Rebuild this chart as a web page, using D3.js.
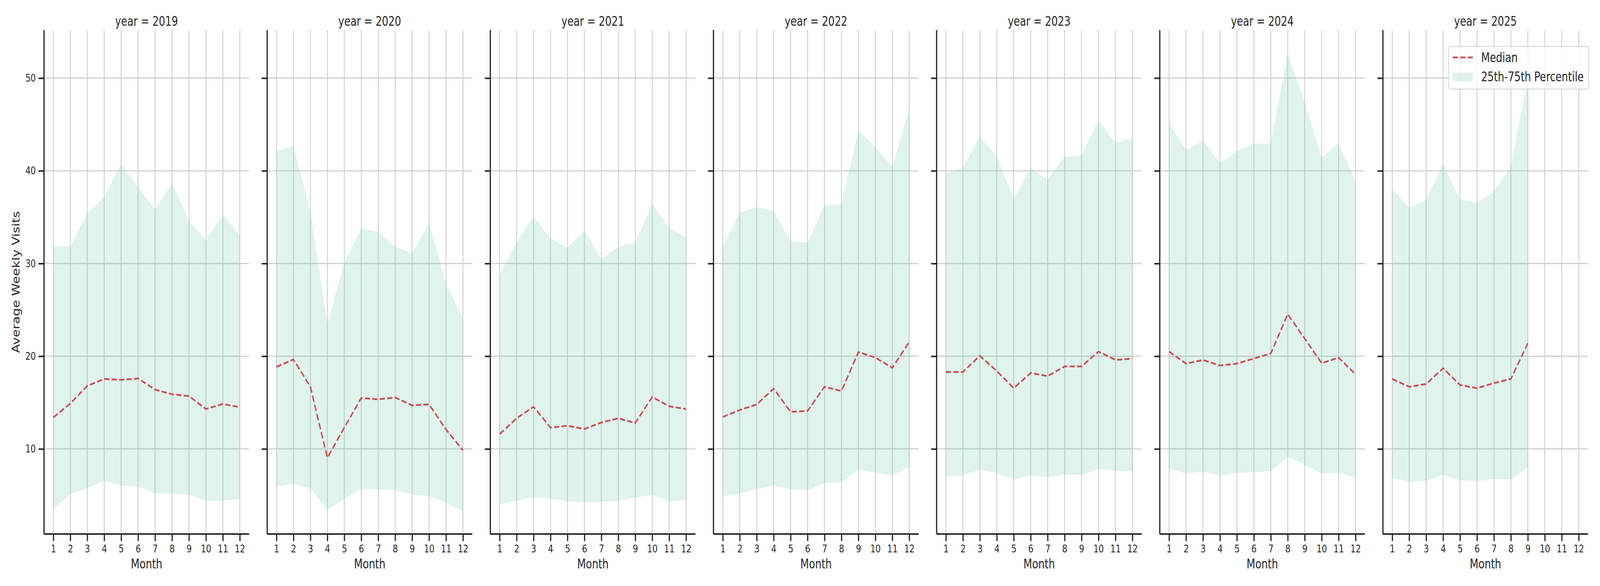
<!DOCTYPE html>
<html>
<head>
<meta charset="utf-8">
<script src="https://cdn.jsdelivr.net/npm/d3@7"></script>
<style>
  html, body { margin: 0; padding: 0; background: #fff; overflow: hidden; }
  #chart svg { display: block; }
  text { font-family: "DejaVu Sans", sans-serif; fill: #262626; }
</style>
</head>
<body>
<div id="chart"></div>
<script>
// data, one row per year
var years = [2019, 2020, 2021, 2022, 2023, 2024, 2025];
var months = [1, 2, 3, 4, 5, 6, 7, 8, 9, 10, 11, 12];
var yTicks = [10, 20, 30, 40, 50];

var median = [
  [13.4, 14.9, 16.8, 17.55, 17.45, 17.6, 16.4, 15.9, 15.7, 14.3, 14.85, 14.5],
  [18.85, 19.65, 16.7, 9.05, 12.3, 15.5, 15.35, 15.55, 14.7, 14.8, 12.1, 9.85],
  [11.6, 13.3, 14.55, 12.3, 12.5, 12.15, 12.85, 13.3, 12.8, 15.6, 14.6, 14.3],
  [13.45, 14.2, 14.8, 16.5, 14.0, 14.1, 16.7, 16.25, 20.45, 19.85, 18.75, 21.55],
  [18.3, 18.3, 20.05, 18.4, 16.55, 18.2, 17.85, 18.9, 18.9, 20.5, 19.6, 19.75],
  [20.5, 19.2, 19.6, 19.0, 19.2, 19.75, 20.3, 24.55, 21.9, 19.25, 19.85, 18.05],
  [17.55, 16.7, 17.0, 18.7, 16.9, 16.55, 17.1, 17.55, 21.4]
];
var p25 = [
  [3.5, 5.1, 5.75, 6.55, 6.05, 5.95, 5.2, 5.2, 5.05, 4.4, 4.4, 4.6],
  [6.0, 6.2, 5.75, 3.4, 4.6, 5.7, 5.65, 5.55, 5.1, 4.9, 4.2, 3.3],
  [4.0, 4.45, 4.75, 4.65, 4.35, 4.2, 4.3, 4.4, 4.75, 5.05, 4.35, 4.5],
  [4.9, 5.2, 5.65, 6.1, 5.65, 5.55, 6.35, 6.4, 7.75, 7.45, 7.15, 8.05],
  [7.0, 7.15, 7.75, 7.4, 6.7, 7.15, 6.95, 7.25, 7.2, 7.85, 7.65, 7.6],
  [7.85, 7.35, 7.55, 7.1, 7.4, 7.5, 7.6, 9.15, 8.3, 7.35, 7.45, 6.9],
  [6.9, 6.45, 6.55, 7.2, 6.6, 6.55, 6.75, 6.7, 8.0]
];
var p75 = [
  [31.9, 31.85, 35.4, 37.15, 40.8, 38.2, 35.85, 38.65, 34.6, 32.5, 35.3, 33.0],
  [42.1, 42.75, 35.5, 23.5, 30.1, 33.8, 33.4, 31.8, 31.1, 34.4, 27.8, 24.1],
  [28.8, 32.3, 35.1, 32.7, 31.7, 33.55, 30.5, 31.8, 32.25, 36.4, 33.85, 32.75],
  [31.8, 35.5, 36.1, 35.65, 32.45, 32.25, 36.3, 36.35, 44.35, 42.6, 40.4, 46.7],
  [39.75, 40.3, 43.75, 41.55, 37.0, 40.3, 39.05, 41.5, 41.7, 45.45, 43.0, 43.55],
  [45.2, 42.2, 43.3, 40.85, 42.1, 42.9, 43.0, 52.6, 47.4, 41.4, 43.0, 38.85],
  [38.0, 36.05, 36.85, 40.75, 36.9, 36.55, 37.75, 40.45, 50.0]
];

var W = 5250, H = 1500;
var top0 = 77, bottom0 = 1367;
var left0 = 144.5, step = 732.2, pw = 673;

var red = "#c44e52", band = "#66c2a5", ink = "#262626", gridCol = "#cccccc";

// viewBox so the whole figure always fits the window that photographs it
var svg = d3.select("#chart").append("svg")
  .attr("viewBox", "0 0 " + W + " " + H)
  .attr("preserveAspectRatio", "none")
  .style("width", "100vw").style("height", "100vh");

var x = d3.scaleLinear().domain([0.45, 12.55]).range([0, pw]);
var y = d3.scaleLinear().domain([0.82, 55.18]).range([bottom0, top0]);

years.forEach(function(yr, i) {
  var g = svg.append("g").attr("transform", "translate(" + (left0 + i * step) + ",0)");

  // grid first so the band sits over it
  g.selectAll("line.vg").data(months).enter().append("line")
    .attr("x1", function(d){ return x(d); }).attr("x2", function(d){ return x(d); })
    .attr("y1", top0).attr("y2", bottom0)
    .attr("stroke", gridCol).attr("stroke-width", 2.7);
  g.selectAll("line.hg").data(yTicks).enter().append("line")
    .attr("x1", 0).attr("x2", pw)
    .attr("y1", function(d){ return y(d); }).attr("y2", function(d){ return y(d); })
    .attr("stroke", gridCol).attr("stroke-width", 2.7);

  var rows = median[i].map(function(m, j) {
    return { month: months[j], med: m, lo: p25[i][j], hi: p75[i][j] };
  });

  var area = d3.area()
    .x(function(d){ return x(d.month); })
    .y0(function(d){ return y(d.lo); })
    .y1(function(d){ return y(d.hi); });
  g.append("path").datum(rows)
    .attr("d", area).attr("fill", band).attr("fill-opacity", 0.2);

  var line = d3.line()
    .x(function(d){ return x(d.month); })
    .y(function(d){ return y(d.med); });
  g.append("path").datum(rows)
    .attr("d", line).attr("fill", "none")
    .attr("stroke", red).attr("stroke-width", 4.5)
    .attr("stroke-dasharray", "17,7.5");

  // axes
  var xa = g.append("g").attr("transform", "translate(0," + bottom0 + ")")
    .call(d3.axisBottom(x).tickValues(months).tickFormat(d3.format("d"))
      .tickSize(18).tickSizeOuter(0).tickPadding(10));
  var ya = g.append("g")
    .call(d3.axisLeft(y).tickValues(yTicks).tickFormat(i === 0 ? d3.format("d") : "")
      .tickSize(18).tickSizeOuter(0).tickPadding(9));
  [xa, ya].forEach(function(a) {
    a.select(".domain").attr("stroke", ink).attr("stroke-width", 4);
    a.selectAll(".tick line").attr("stroke", ink).attr("stroke-width", 4);
    a.selectAll(".tick text").attr("fill", ink)
      .style("font-size", "27px").style("font-family", "DejaVu Sans");
  });
  // spines run the full width / height of the panel
  xa.select(".domain").attr("d", "M0,0H" + pw);
  ya.select(".domain").attr("d", "M0," + bottom0 + "V" + top0);

  g.append("text").attr("x", pw / 2).attr("y", 66)
    .attr("text-anchor", "middle").style("font-size", "33px")
    .text("year = " + yr);
  g.append("text").attr("x", pw / 2).attr("y", 1455)
    .attr("text-anchor", "middle").style("font-size", "33px")
    .text("Month");

  if (i === years.length - 1) {
    var lg = g.append("g").attr("transform", "translate(" + (4753 - left0 - i * step) + ",119)");
    lg.append("rect").attr("width", 460).attr("height", 109).attr("rx", 5)
      .attr("fill", "#fff").attr("fill-opacity", 0.8)
      .attr("stroke", "#cccccc").attr("stroke-opacity", 0.8).attr("stroke-width", 2.5);
    lg.append("line").attr("x1", 14).attr("x2", 80).attr("y1", 28).attr("y2", 28)
      .attr("stroke", red).attr("stroke-width", 4.5).attr("stroke-dasharray", "17,7.5");
    lg.append("rect").attr("x", 14).attr("y", 67).attr("width", 66).attr("height", 22)
      .attr("fill", band).attr("fill-opacity", 0.2);
    lg.append("text").attr("x", 107).attr("y", 40).style("font-size", "33px").text("Median");
    lg.append("text").attr("x", 107).attr("y", 89).style("font-size", "33px").text("25th-75th Percentile");
  }
});

svg.append("text")
  .attr("transform", "translate(53," + ((top0 + bottom0) / 2) + ") rotate(-90)")
  .attr("text-anchor", "middle").attr("dominant-baseline", "central")
  .style("font-size", "33px")
  .text("Average Weekly Visits");
</script>
</body>
</html>
